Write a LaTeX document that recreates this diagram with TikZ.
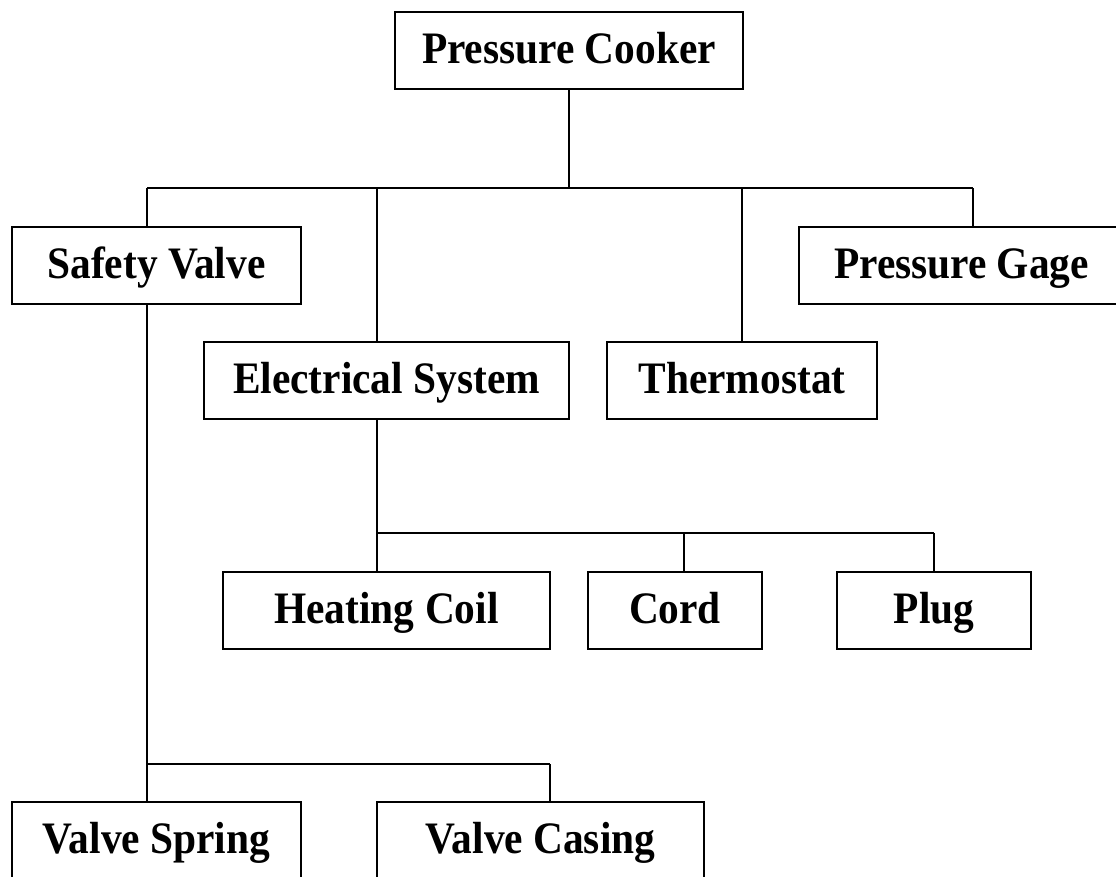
\documentclass[tikz,border=0pt]{standalone}
\usepackage{fontspec}
\setmainfont{Liberation Serif}
\newfontfamily\boxfont[FakeStretch=0.92]{Liberation Serif}
\tikzset{
  part/.style={draw, line width=2pt, inner sep=0pt, minimum height=77pt,
    text height=31pt, text depth=6pt,
    font=\boxfont\bfseries\fontsize{45}{45}\selectfont},
  link/.style={line width=1.6pt}
}

\begin{document}
\begin{tikzpicture}[x=1pt,y=-1pt]
\useasboundingbox (0,0) rectangle (1116,876);

\node[part, minimum width=348] (cooker) at (569,50.5) {Pressure Cooker};

\node[part, minimum width=289] (safety) at (156.5,265.5) {Safety Valve};
\node[part, minimum width=326] (gage) at (961.5,265.5) {Pressure Gage};
\node[part, minimum width=365] (elec) at (386.5,380.5) {Electrical System};
\node[part, minimum width=270] (thermo) at (742,380.5) {Thermostat};

\node[part, minimum width=327] (coil) at (386.5,610.5) {Heating Coil};
\node[part, minimum width=174] (cord) at (675,610.5) {Cord};
\node[part, minimum width=194] (plug) at (934,610.5) {Plug};

\node[part, minimum width=289] (spring) at (156.5,840.5) {Valve Spring};
\node[part, minimum width=327] (casing) at (540.5,840.5) {Valve Casing};

% top level
\coordinate (tSafety) at (147,188);
\coordinate (tElec) at (377,188);
\coordinate (tThermo) at (742,188);
\coordinate (tGage) at (973,188);
\draw[link] (cooker.south) -- (cooker.south |- tSafety);
\draw[link] (tSafety) -- (tGage);
\draw[link] (tSafety) -- (tSafety |- safety.north);
\draw[link] (tElec) -- (tElec |- elec.north);
\draw[link] (tThermo) -- (tThermo |- thermo.north);
\draw[link] (tGage) -- (tGage |- gage.north);

% electrical system
\coordinate (mCoil) at (377,533);
\coordinate (mCord) at (684,533);
\coordinate (mPlug) at (934,533);
\draw[link] (mCoil |- elec.south) -- (mCoil) -- (mPlug);
\draw[link] (mCoil) -- (mCoil |- coil.north);
\draw[link] (mCord) -- (mCord |- cord.north);
\draw[link] (mPlug) -- (mPlug |- plug.north);

% safety valve
\coordinate (bSpring) at (147,764);
\coordinate (bCasing) at (550,764);
\draw[link] (bSpring |- safety.south) -- (bSpring) -- (bCasing);
\draw[link] (bSpring) -- (bSpring |- spring.north);
\draw[link] (bCasing) -- (bCasing |- casing.north);

\end{tikzpicture}
\end{document}
